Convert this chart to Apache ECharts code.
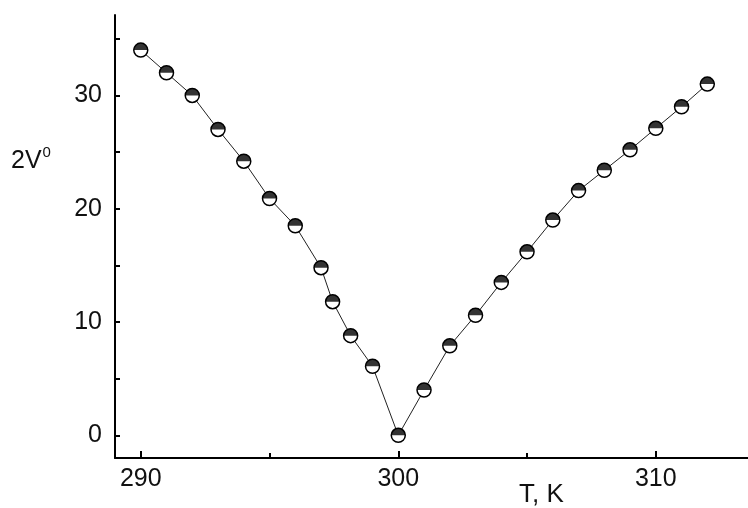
<!DOCTYPE html>
<html>
<head>
<meta charset="utf-8">
<script src="https://cdn.jsdelivr.net/npm/echarts@6/dist/echarts.min.js"></script>
<style>
  html, body { margin: 0; padding: 0; background: #fff; }
  #chart { width: 748px; height: 508px; }
</style>
</head>
<body>
<div id="chart"></div>
<script>
// temperature, K
var temps = [290, 291, 292, 293, 294, 295, 296, 297, 297.45, 298.15, 299, 300,
  301, 302, 303, 304, 305, 306, 307, 308, 309, 310, 311, 312]
// 2V0
var values = [34.0, 32.0, 30.0, 27.0, 24.2, 20.9, 18.5, 14.8, 11.8, 8.8, 6.1, 0.0,
  4.0, 7.9, 10.6, 13.5, 16.2, 19.0, 21.6, 23.4, 25.2, 27.1, 29.0, 31.0]

var xMajor = [290, 300, 310]
var xMinor = [295, 305]
var yTicks = [0, 5, 10, 15, 20, 25, 30, 35]
var yLabels = [0, 10, 20, 30]

var points = temps.map(function (t, i) { return [t, values[i]] })

var font = 'Liberation Sans, Arial, sans-serif'
var axisLine = { show: true, onZero: false, lineStyle: { color: '#000', width: 2 } }

var chart = echarts.init(document.getElementById('chart'))
var option = {
  animation: false,
  backgroundColor: '#fff',
  grid: { left: 115, right: 0, top: 15, bottom: 50 },
  xAxis: [{
    type: 'value',
    min: 289,
    max: 313.58,
    axisLine: axisLine,
    splitLine: { show: false },
    axisTick: {
      customValues: xMajor,
      inside: true,
      length: 7,
      lineStyle: { color: '#000', width: 2 }
    },
    axisLabel: {
      customValues: xMajor,
      color: '#111',
      fontSize: 25,
      fontFamily: font,
      margin: 9
    }
  }, {
    // shorter ticks halfway between labels
    type: 'value',
    position: 'bottom',
    offset: 0,
    min: 289,
    max: 313.58,
    axisLine: { show: false, onZero: false },
    splitLine: { show: false },
    axisTick: {
      customValues: xMinor,
      inside: true,
      length: 5,
      lineStyle: { color: '#000', width: 2 }
    },
    axisLabel: { show: false }
  }],
  yAxis: {
    type: 'value',
    min: -2,
    max: 37.1,
    axisLine: axisLine,
    splitLine: { show: false },
    axisTick: {
      customValues: yTicks,
      inside: true,
      length: 5,
      lineStyle: { color: '#000', width: 2 }
    },
    axisLabel: {
      customValues: yLabels,
      color: '#111',
      fontSize: 25,
      fontFamily: font,
      margin: 13
    }
  },
  graphic: [{
    type: 'text',
    left: 519,
    top: 482,
    style: { text: 'T, K', fill: '#111', font: '26px ' + font }
  }, {
    type: 'text',
    left: 11,
    top: 145,
    style: {
      text: '{b|2V}{s|0}',
      fill: '#111',
      rich: {
        b: { fontSize: 25, fontFamily: font, color: '#111', verticalAlign: 'bottom' },
        s: { fontSize: 15, fontFamily: font, color: '#111', verticalAlign: 'top', padding: [0, 0, 14, 1] }
      }
    }
  }],
  series: [{
    type: 'line',
    data: points,
    symbol: 'circle',
    symbolSize: 14,
    itemStyle: { color: '#fff', borderColor: '#000', borderWidth: 1.5 },
    lineStyle: { color: '#222', width: 1 },
    z: 2
  }, {
    // black upper half of each marker
    type: 'scatter',
    data: points,
    symbol: 'path://M0,10 A10,10 0 0 1 20,10 Z',
    symbolSize: [14, 7],
    symbolOffset: [0, '-50%'],
    itemStyle: { color: '#000' },
    z: 3
  }]
}
chart.setOption(option)
</script>
</body>
</html>
